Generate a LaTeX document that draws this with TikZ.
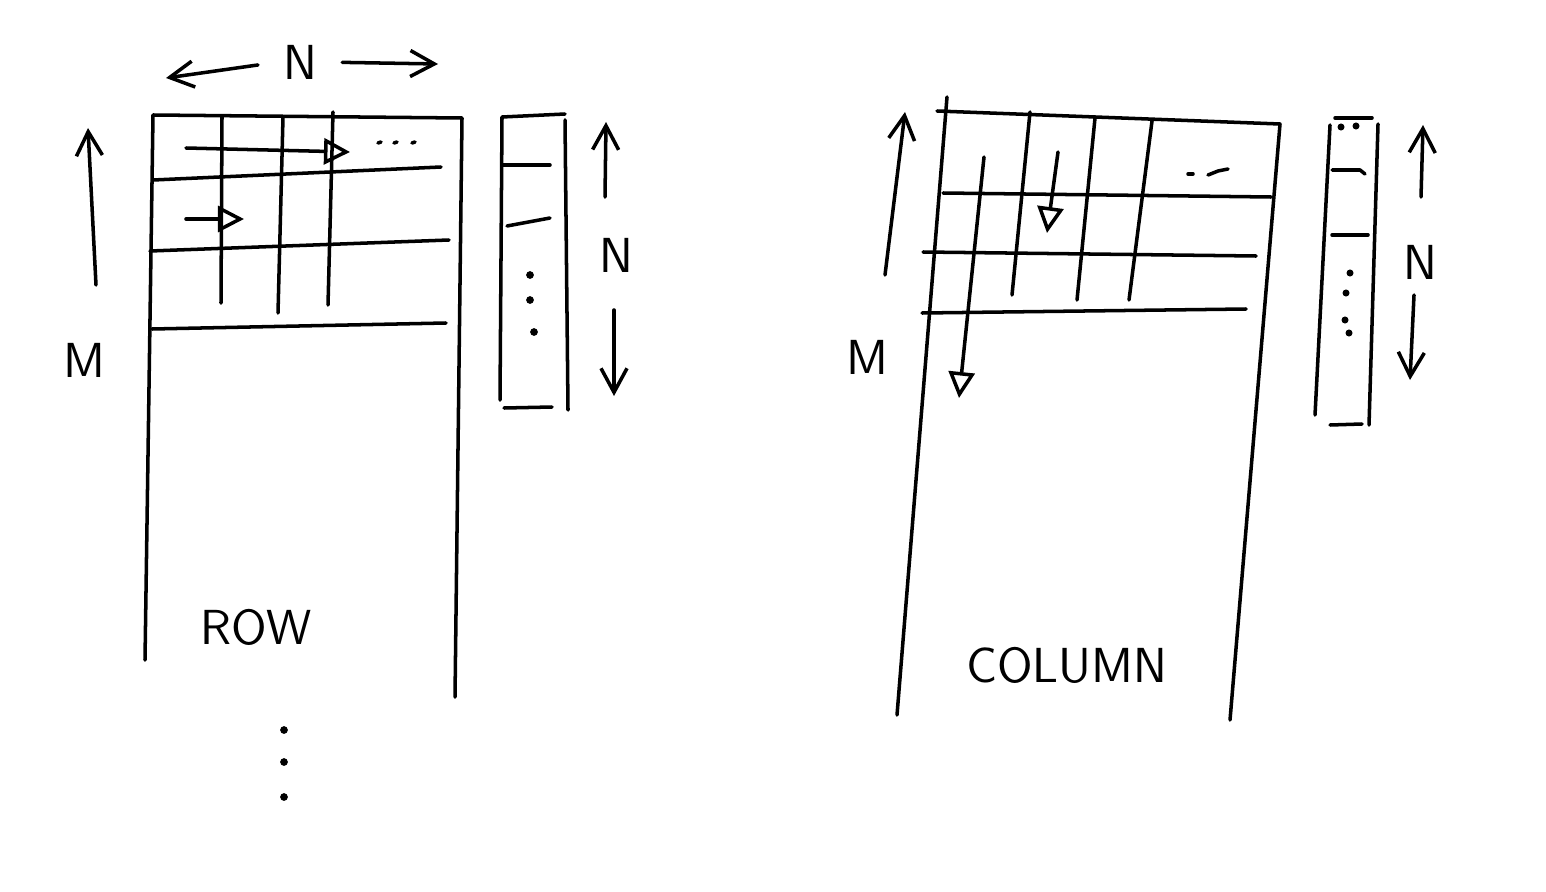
\documentclass[tikz,border=0pt]{standalone}
\usetikzlibrary{arrows.meta}

\begin{document}
\begin{tikzpicture}[x=0.01cm,y=-0.01cm]
\tikzset{
  pen/.style={line width=1pt,line cap=round,line join=round},
  walk/.style={pen,-{Triangle[open,length=2.6mm,width=2.6mm]}},
  axis/.style={pen,-{Straight Barb[length=2.4mm,width=2.6mm]}},
  hand/.style={font=\sffamily\fontsize{14}{16}\selectfont,inner sep=1pt},
  bighand/.style={font=\sffamily\fontsize{14}{16}\selectfont,inner sep=1pt},
  dot/.style={fill=black}
}
\useasboundingbox (0,0) rectangle (1546,891);

% row-major matrix
\draw[pen] (145,660) -- (153,115) -- (462,118) -- (455,697);
\draw[pen] (153,180) -- (441,167);
\draw[pen] (150,251) -- (449,240);
\draw[pen] (152,329) -- (446,323);
\draw[pen] (222,117) -- (221,303);
\draw[pen] (283,117) -- (278,313);
\draw[pen] (333,112) -- (328,305);
\draw[walk] (186,148) -- (350,152);
\draw[walk] (186,219) -- (244,219);
\foreach \x in {378,394,412} \draw[pen] (\x,143) -- +(3,-1);
\node[hand] (n_Nrow) at (300,62) {N};
\draw[axis,shorten <=6pt] (n_Nrow.west) -- (166,78);
\draw[axis,shorten <=6pt] (n_Nrow.east) -- (438,64);
\node[bighand] (n_Mrow) at (84,360) {M};
\draw[axis] (96,285) -- (88,128);
\node[bighand] (n_row) at (256,627) {ROW};
\foreach \y in {730,762,797} \fill[dot] (284,\y) circle (1.1pt);

% vector for row case
\draw[pen] (500,400) -- (502,117) -- (565,114);
\draw[pen] (565,120) -- (568,410);
\draw[pen] (502,165) -- (550,165);
\draw[pen] (507,226) -- (550,218);
\draw[pen] (504,408) -- (552,407);
\foreach \p in {(530,275),(530,300),(534,332)} \fill[dot] \p circle (1.1pt);
\node[hand] (n_Nvec) at (616,255) {N};
\draw[axis] (605,197) -- (606,122);
\draw[axis] (614,310) -- (614,396);

% column-major matrix
\draw[pen] (897,715) -- (947,97);
\draw[pen] (937,111) -- (1280,124) -- (1230,720);
\draw[pen] (943,193) -- (1271,197);
\draw[pen] (923,252) -- (1256,256);
\draw[pen] (922,313) -- (1246,309);
\draw[walk] (984,157) -- (959,398);
\draw[pen] (1030,112) -- (1012,295);
\draw[pen] (1095,118) -- (1077,300);
\draw[pen] (1152,121) -- (1129,300);
\draw[walk] (1058,152) -- (1047,233);
\draw[pen] (1188,174) -- (1193,174);
\draw[pen] (1208,175) -- (1218,171) -- (1228,169);
\node[bighand] (n_Mcol) at (867,357) {M};
\draw[axis] (885,275) -- (905,112);
\node[bighand] (n_col) at (1067,665) {COLUMN};

% vector for column case
\draw[pen] (1315,415) -- (1330,125);
\draw[pen] (1335,118) -- (1372,118);
\draw[pen] (1378,124) -- (1369,425);
\draw[pen] (1332,170) -- (1360,170) -- (1365,174);
\draw[pen] (1332,235) -- (1368,235);
\draw[pen] (1330,425) -- (1362,424);
\foreach \p in {(1341,127),(1356,126),(1350,273),(1346,293),(1345,320),(1349,333)} \fill[dot] \p circle (1pt);
\node[hand] (n_Ncol) at (1420,262) {N};
\draw[axis] (1421,197) -- (1423,125);
\draw[axis] (1414,295) -- (1410,380);
\end{tikzpicture}
\end{document}
